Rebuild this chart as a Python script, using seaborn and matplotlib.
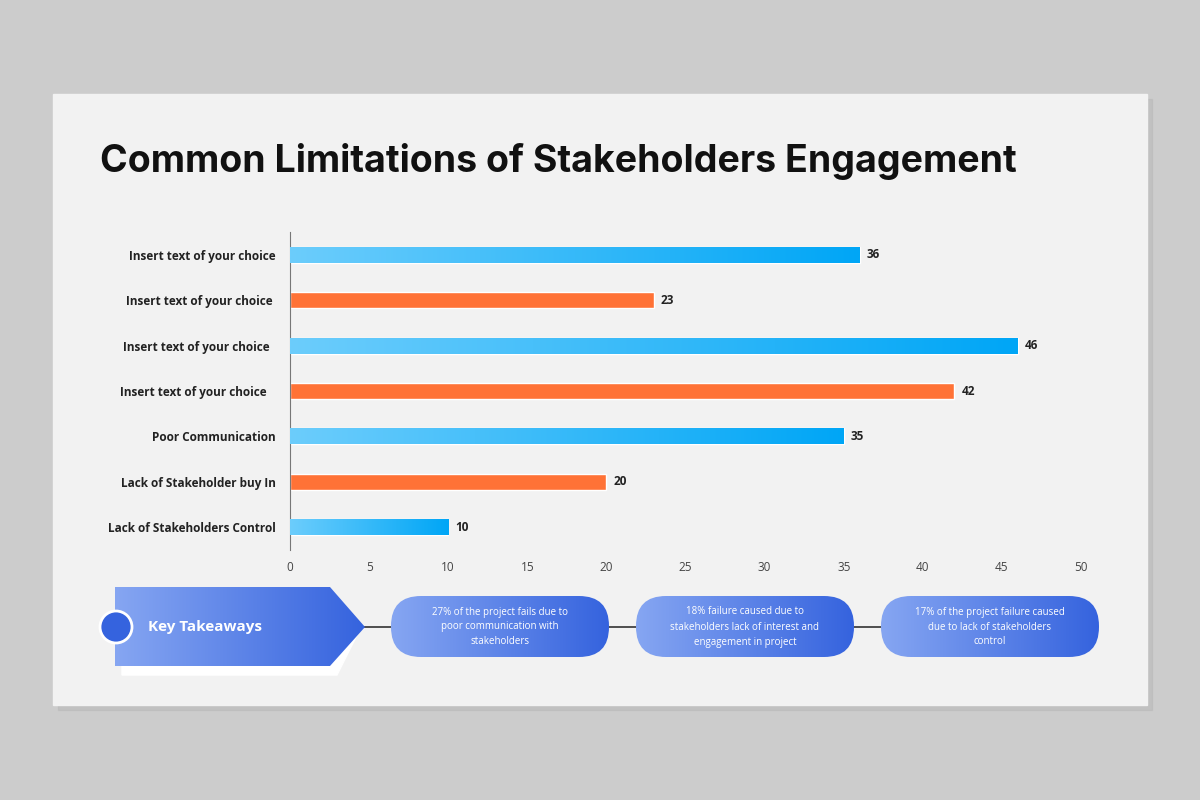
import numpy as np
import pandas as pd
import seaborn as sns
import matplotlib.pyplot as plt
from matplotlib.patches import Rectangle, Polygon, Circle, FancyBboxPatch, FancyArrowPatch

# Data
categories = ['Insert text of your choice', 'Insert text of your choice ', 'Insert text of your choice  ',
              'Insert text of your choice   ', 'Poor Communication', 'Lack of Stakeholder buy In',
              'Lack of Stakeholders Control']
values = [36, 23, 46, 42, 35, 20, 10]
series = ['blue', 'orange', 'blue', 'orange', 'blue', 'orange', 'blue']
takeaways = ['27% of the project fails due to\npoor communication with\nstakeholders',
             '18% failure caused due to\nstakeholders lack of interest and\nengagement in project',
             '17% of the project failure caused\ndue to lack of stakeholders\ncontrol']

sns.set_theme(style='white')
plt.rcParams['font.family'] = ['Open Sans', 'DejaVu Sans']

fig = plt.figure(figsize=(12, 8), dpi=100)
fig.patch.set_facecolor('#cccccc')

# background / slide layer in pixel coords
bg = fig.add_axes([0, 0, 1, 1], zorder=0)
bg.set_xlim(0, 1200); bg.set_ylim(800, 0); bg.axis('off')
bg.add_patch(Rectangle((58, 99), 1094, 611, color='#b8b8b8', alpha=0.5))
bg.add_patch(Rectangle((53, 94), 1094, 611, color='#f2f2f2'))
bg.text(100, 162, 'Common Limitations of Stakeholders Engagement', fontsize=27,
        fontweight='bold', color='#111111', va='center', family=['Inter', 'DejaVu Sans'])

grad = np.linspace(0, 1, 256).reshape(1, -1)
from matplotlib.colors import LinearSegmentedColormap
pill_cmap = LinearSegmentedColormap.from_list('pill', ['#86a6f2', '#3563de'])
blue_cmap = LinearSegmentedColormap.from_list('bl', ['#6ccdfc', '#00a6f6'])

# timeline line + arrow
bg.add_artist(FancyArrowPatch((360, 627), (1102, 627), arrowstyle='-|>', mutation_scale=10,
                              color='#333333', lw=1.2))
# key takeaways pentagon
bg.add_patch(Polygon([(122, 597), (337, 597), (358, 633), (337, 675), (122, 675)], color='white'))
pent = Polygon([(115, 587), (330, 587), (365, 627), (330, 666), (115, 666)], color='none')
bg.add_patch(pent)
im = bg.imshow(grad, cmap=pill_cmap, extent=(115, 365, 666, 587), aspect='auto', zorder=2)
im.set_clip_path(pent)
bg.add_patch(Circle((116, 627), 16, facecolor='#3563de', edgecolor='white', lw=2, zorder=3))
bg.text(148, 627, 'Key Takeaways', fontsize=11, fontweight='bold', color='white', va='center', zorder=4)

for cx, txt in zip([500, 745, 990], takeaways):
    pill = FancyBboxPatch((cx - 109 + 30, 596), 218 - 60, 61, boxstyle='round,pad=0,rounding_size=30',
                          facecolor='none', edgecolor='none')
    pill.set_boxstyle('round', pad=0, rounding_size=30)
    pill = FancyBboxPatch((cx - 109, 596), 218, 61, boxstyle='round,pad=0,rounding_size=30',
                          facecolor='none', edgecolor='none', zorder=2)
    bg.add_patch(pill)
    im = bg.imshow(grad, cmap=pill_cmap, extent=(cx - 109, cx + 109, 657, 596), aspect='auto', zorder=2)
    im.set_clip_path(pill)
    bg.text(cx, 627, txt, fontsize=7, color='white', ha='center', va='center', zorder=4, linespacing=1.5)
bg.set_xlim(0, 1200); bg.set_ylim(800, 0)

# bar chart
ax = fig.add_axes([290 / 1200, 1 - 550 / 800, (1081 - 290) / 1200, (550 - 232) / 800], zorder=1)
ax.patch.set_alpha(0)
df = pd.DataFrame({'cat': categories, 'val': values, 'series': series})
sns.barplot(data=df, x='val', y='cat', hue='series', palette={'blue': '#2ab4f8', 'orange': '#ff7236'},
            width=0.35, dodge=False, legend=False, ax=ax, saturation=1)
for p, s in zip(sorted(ax.patches, key=lambda r: -r.get_y()), series[::-1]):
    pass
for p in ax.patches:
    if p.get_width() == 0:
        continue
    fc = p.get_facecolor()
    if fc[2] > fc[0]:
        x0, y0, w, h = p.get_x(), p.get_y(), p.get_width(), p.get_height()
        im = ax.imshow(grad, cmap=blue_cmap, extent=(x0, x0 + w, y0 + h, y0), aspect='auto', zorder=3)
        im.set_clip_path(p)
for i, v in enumerate(values):
    ax.text(v + 0.45, i, str(v), va='center', fontsize=8.5, fontweight='bold', color='#222222')
ax.set_xlim(0, 50)
ax.set_ylim(6.5, -0.5)
ax.set_xticks(range(0, 51, 5))
ax.set_xlabel(''); ax.set_ylabel('')
ax.tick_params(axis='x', labelsize=8.5, colors='#444444', length=0, pad=8)
ax.tick_params(axis='y', labelsize=8.5, length=0, pad=10)
for lab in ax.get_yticklabels():
    lab.set_fontweight('bold'); lab.set_color('#222222')
for s in ['top', 'right', 'bottom']:
    ax.spines[s].set_visible(False)
ax.spines['left'].set_color('#777777'); ax.spines['left'].set_linewidth(0.8)

fig.savefig('out.png', dpi=100, facecolor=fig.get_facecolor())
